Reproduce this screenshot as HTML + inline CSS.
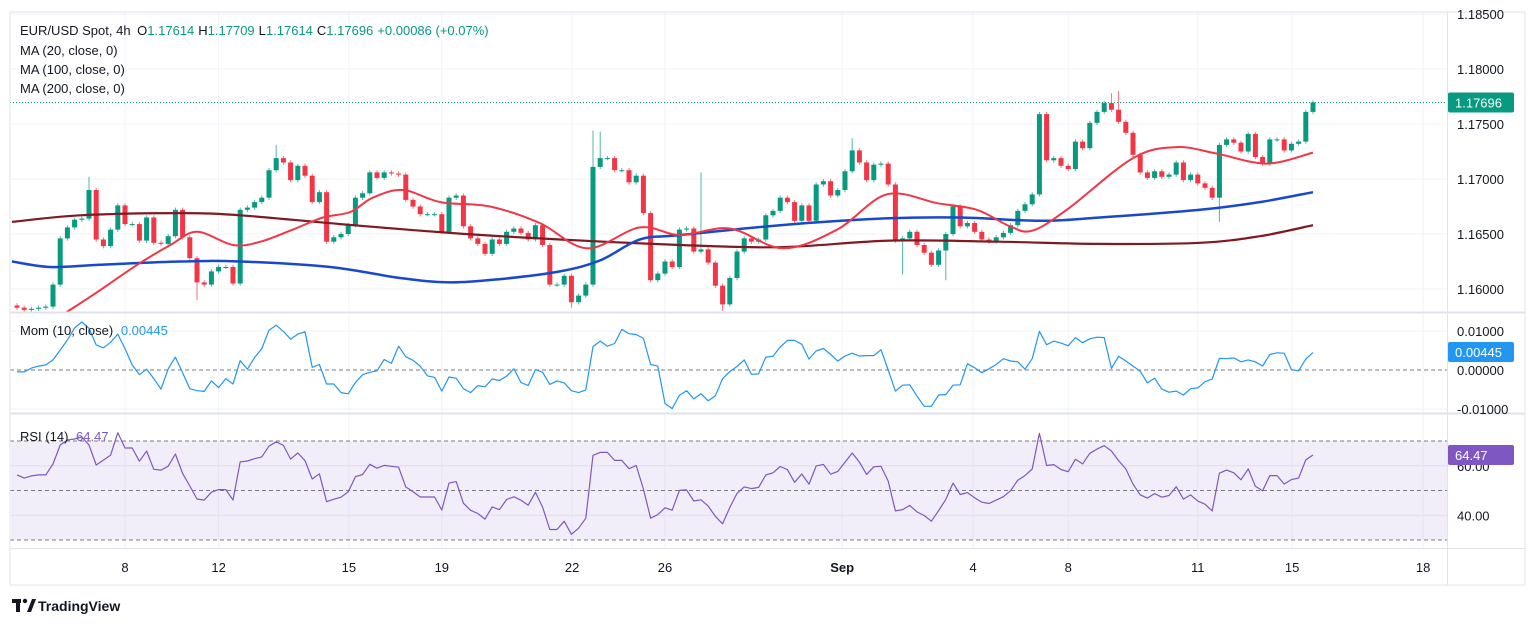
<!DOCTYPE html>
<html><head><meta charset="utf-8">
<style>
html,body{margin:0;padding:0;background:#fff;}
svg{display:block;font-family:"Liberation Sans",sans-serif;}
</style></head>
<body>
<svg id="chart" width="1536" height="625" viewBox="0 0 1536 625" xmlns="http://www.w3.org/2000/svg">
  <rect x="0" y="0" width="1536" height="625" fill="#ffffff"/>
  <g id="grid"></g>
  <rect x="11" y="441" width="1436" height="99" fill="#7e57c2" fill-opacity="0.1"/>
  <g id="marks"></g>
  <g id="frame">
    <line x1="10" y1="12" x2="1525" y2="12" stroke="#e0e3eb"/>
    <line x1="10" y1="12" x2="10" y2="585" stroke="#e0e3eb"/>
    <line x1="1525" y1="12" x2="1525" y2="585" stroke="#e0e3eb"/>
    <line x1="10" y1="585" x2="1525" y2="585" stroke="#e0e3eb"/>
    <line x1="10" y1="312.5" x2="1525" y2="312.5" stroke="#e0e3eb" stroke-width="2"/>
    <line x1="10" y1="413.5" x2="1525" y2="413.5" stroke="#e0e3eb" stroke-width="2"/>
    <line x1="10" y1="548.5" x2="1525" y2="548.5" stroke="#e0e3eb"/>
    <line x1="1447.5" y1="12" x2="1447.5" y2="585" stroke="#e0e3eb"/>
  </g>
  <g id="axes" font-size="13" fill="#131722"></g>
  <g font-size="13" fill="#131722">
    <text x="20" y="35">EUR/USD Spot, 4h <tspan dx="3">O</tspan><tspan fill="#089981">1.17614</tspan><tspan dx="4">H</tspan><tspan fill="#089981">1.17709</tspan><tspan dx="4">L</tspan><tspan fill="#089981">1.17614</tspan><tspan dx="4">C</tspan><tspan fill="#089981">1.17696</tspan><tspan fill="#089981" dx="4">+0.00086 (+0.07%)</tspan></text>
    <text x="20" y="55">MA (20, close, 0)</text>
    <text x="20" y="74">MA (100, close, 0)</text>
    <text x="20" y="93">MA (200, close, 0)</text>
    <text x="20" y="335">Mom (10, close) <tspan fill="#2196f3" dx="4">0.00445</tspan></text>
    <text x="20" y="441">RSI (14) <tspan fill="#7e57c2" dx="4">64.47</tspan></text>
  </g>
  <g>
    <rect x="12" y="599" width="9" height="4" fill="#131722"/>
    <rect x="16" y="599" width="4" height="13" fill="#131722"/>
    <circle cx="25" cy="601" r="2.2" fill="#131722"/>
    <path d="M27 612 L32 599 L36 599 L31 612 Z" fill="#131722"/>
    <text x="38" y="611" font-size="14" font-weight="bold" fill="#131722">TradingView</text>
  </g>
</svg>
<script>
const closes=[1.1583,1.1581,1.1582,1.1583,1.1584,1.1604,1.1646,1.1656,1.1663,1.1664,
1.1690,1.1645,1.1639,1.1654,1.1676,1.1659,1.1659,1.1644,1.1665,1.1642,
1.1641,1.1648,1.1672,1.1647,1.1628,1.1606,1.1604,1.1616,1.1620,1.1620,
1.1605,1.1672,1.1674,1.1679,1.1683,1.1708,1.1719,1.1715,1.1699,1.1712,
1.1703,1.1679,1.1688,1.1643,1.1647,1.1650,1.1658,1.1683,1.1687,1.1706,
1.1701,1.1706,1.1705,1.1704,1.1681,1.1675,1.1668,1.1668,1.1668,1.1652,
1.1683,1.1685,1.1657,1.1646,1.1641,1.1632,1.1645,1.1641,1.1652,1.1655,
1.1651,1.1645,1.1658,1.1640,1.1604,1.1604,1.1612,1.1588,1.1594,1.1604,
1.1711,1.1719,1.1719,1.1708,1.1708,1.1697,1.1703,1.1669,1.1608,1.1614,
1.1625,1.1620,1.1654,1.1655,1.1634,1.1636,1.1624,1.1603,1.1586,1.1610,
1.1634,1.1646,1.1643,1.1645,1.1667,1.1671,1.1683,1.1679,1.1662,1.1676,
1.1662,1.1695,1.1698,1.1685,1.1690,1.1707,1.1726,1.1715,1.1699,1.1713,
1.1714,1.1695,1.1644,1.1646,1.1652,1.1640,1.1633,1.1622,1.1635,1.1650,
1.1675,1.1657,1.1660,1.1652,1.1645,1.1643,1.1647,1.1651,1.1658,1.1671,
1.1677,1.1686,1.1759,1.1717,1.1719,1.1712,1.1709,1.1734,1.1728,1.1751,
1.1761,1.1769,1.1763,1.1752,1.1742,1.1722,1.1706,1.1701,1.1707,1.1702,
1.1704,1.1715,1.1699,1.1704,1.1696,1.1692,1.1683,1.1731,1.1736,1.1733,
1.1725,1.1741,1.1720,1.1714,1.1736,1.1736,1.1726,1.1732,1.1734,1.1761,1.17696];
const firstOpen=1.1585;
const highIdx=[10,36,80,81,95,116,142,152,153];
const highVals=[1.1702,1.1731,1.1744,1.1743,1.1706,1.1737,1.1761,1.1778,1.1780];
const lowIdx=[25,77,98,123,129,167];
const lowVals=[1.1590,1.1583,1.1580,1.1613,1.1608,1.1661];
const ma20Idx=[6.9,11.1,16.7,21.3,25,30,33.8,38.3,42.5,46.3,49.4,53.6,58.8,65.7,72.6,79.2,86.5,92.1,99,106.4,113.9,120.8,127.8,133.3,137.9,141,145.8,155,161.1,166.7,173.6,180];
const ma20Vals=[1.1579,1.1597,1.1622,1.1640,1.1652,1.1640,1.1643,1.1654,1.1665,1.1670,1.1683,1.1690,1.1679,1.1675,1.1660,1.1637,1.1656,1.1649,1.1655,1.1637,1.1654,1.1686,1.1678,1.1672,1.1657,1.1653,1.1672,1.1719,1.1729,1.1723,1.1714,1.1724];
const ma100Idx=[-0.7,4.6,11.5,22.6,31,43.5,53.2,60.1,67.1,75.4,81,86.5,92.1,106,119.9,131,142.1,150.4,164.3,172.6,180];
const ma100Vals=[1.1625,1.1620,1.1622,1.1625,1.1625,1.1620,1.1610,1.1606,1.1609,1.1616,1.1626,1.1645,1.1649,1.1658,1.1664,1.1665,1.1662,1.1665,1.1672,1.1679,1.1688];
const ma200Idx=[-0.7,8.75,22.6,31,44.9,60.1,75.4,92.1,106,121.3,136.5,150.4,164.3,172.6,180];
const ma200Vals=[1.1661,1.1667,1.1669,1.1667,1.1659,1.1651,1.1645,1.1640,1.1638,1.1644,1.1643,1.1641,1.1642,1.1648,1.1658];
const momEarly=[-0.0005,-0.0005,0.0005,0.0010,0.0013,0.0026,0.0051,0.0077,0.0108,0.0123];
const rsiEarly=[56.3,55.0,55.9,56.3,56.3,60.7,68.4,70.4,70.8,71.6,68.4,60.3,62.3,64.3];
const dateLabels=["8","12","15","19","22","26","Sep","4","8","11","15","18"];
const dateIdx=[15,28,46.1,59,77.1,90,114.6,132.8,146,164,177.1,195.3];
const priceTicks=[1.185,1.18,1.175,1.17,1.165,1.16];
const priceTickLabels=["1.18500","1.18000","1.17500","1.17000","1.16500","1.16000"];
const momTicks=[0.01,0,-0.01];
const momTickLabels=["0.01000","0.00000","-0.01000"];
const rsiTicks=[60,40];
const rsiTickLabels=["60.00","40.00"];

const NS="http://www.w3.org/2000/svg";
const xOf=i=>17+i*7.2;
const yP=p=>69+(1.18-p)*11000;
const yM=m=>370-m*3900;
const yR=r=>540-(r-30)*2.475;
function mk(tag,attrs,parent){const e=document.createElementNS(NS,tag);for(const k in attrs)e.setAttribute(k,attrs[k]);parent.appendChild(e);return e;}
const grid=document.getElementById('grid'),marks=document.getElementById('marks'),axes=document.getElementById('axes');

priceTicks.forEach((p,k)=>{const l=mk('line',{x1:10,x2:1447,y1:yP(p),y2:yP(p),stroke:'#f0f3fa'},grid);


const t=mk('text',{x:1457,y:yP(p)+5},axes);t.textContent=priceTickLabels[k];

});
momTicks.forEach((m,k)=>{const t=mk('text',{x:1457,y:yM(m)+5},axes);t.textContent=momTickLabels[k];


if(m!==0){const l=mk('line',{x1:10,x2:1447,y1:yM(m),y2:yM(m),stroke:'#f0f3fa'},grid);

}});
rsiTicks.forEach((r,k)=>{const t=mk('text',{x:1457,y:yR(r)+5},axes);t.textContent=rsiTickLabels[k];


const l=mk('line',{x1:10,x2:1447,y1:yR(r),y2:yR(r),stroke:'#ece9f5'},grid);

});
dateLabels.forEach((d,k)=>{const x=xOf(dateIdx[k]);
const l=mk('line',{x1:x,x2:x,y1:12,y2:548,stroke:'#f0f3fa'},grid);


const t=mk('text',{x:x,y:572,'text-anchor':'middle','font-weight':d==='Sep'?'bold':'normal'},axes);t.textContent=d;

});

[[yM(0),'mom-zero-line'],[yR(70),'rsi-70-line'],[yR(50),'rsi-50-line'],[yR(30),'rsi-30-line']].forEach(([y,n])=>{
const l=mk('line',{x1:10,x2:1447,y1:y,y2:y,stroke:'#787b86','stroke-dasharray':'4 3','stroke-width':1},marks);

});

const hiMap={},loMap={};highIdx.forEach((i,k)=>hiMap[i]=highVals[k]);lowIdx.forEach((i,k)=>loMap[i]=lowVals[k]);
closes.forEach((c,i)=>{const o=i===0?firstOpen:closes[i-1];
const up=c>=o;const col=up?'#089981':'#f23645';
const h=hiMap[i]!==undefined?hiMap[i]:Math.max(o,c)+0.0002;
const lo=loMap[i]!==undefined?loMap[i]:Math.min(o,c)-0.0002;
const x=xOf(i);
const w=mk('line',{x1:x,x2:x,y1:yP(h),y2:yP(lo),stroke:col,'stroke-opacity':0.7},marks);


const y1=yP(Math.max(o,c)),y2=yP(Math.min(o,c));
const b=mk('rect',{x:x-2.5,y:y1,width:5,height:Math.max(1,y2-y1),fill:col},marks);

});

function smooth(idx,vals,yf,col,w,name){const P=idx.map((i,k)=>[xOf(i),yf(vals[k])]);
let d='M'+P[0][0].toFixed(1)+','+P[0][1].toFixed(1);
for(let k=0;k<P.length-1;k++){const p0=P[Math.max(0,k-1)],p1=P[k],p2=P[k+1],p3=P[Math.min(P.length-1,k+2)];
const c1=[p1[0]+(p2[0]-p0[0])/6,p1[1]+(p2[1]-p0[1])/6],c2=[p2[0]-(p3[0]-p1[0])/6,p2[1]-(p3[1]-p1[1])/6];
d+=' C'+c1[0].toFixed(1)+','+c1[1].toFixed(1)+' '+c2[0].toFixed(1)+','+c2[1].toFixed(1)+' '+p2[0].toFixed(1)+','+p2[1].toFixed(1);}
const p=mk('path',{d:d,fill:'none',stroke:col,'stroke-width':w,'stroke-linejoin':'round'},marks);

}
function poly(idx,vals,yf,col,w,name){const pts=idx.map((i,k)=>xOf(i).toFixed(1)+','+yf(vals[k]).toFixed(1)).join(' ');
const p=mk('polyline',{points:pts,fill:'none',stroke:col,'stroke-width':w,'stroke-linejoin':'round'},marks);

}
smooth(ma200Idx,ma200Vals,yP,'#801922',2.2,'ma200-line');
smooth(ma100Idx,ma100Vals,yP,'#1848cc',2.5,'ma100-line');
smooth(ma20Idx,ma20Vals,yP,'#f23645',2,'ma20-line');

const lp=closes[closes.length-1];
const dl=mk('line',{x1:10,x2:1447,y1:yP(lp),y2:yP(lp),stroke:'#089981','stroke-dasharray':'1 2'},marks);



const mom=closes.map((c,i)=>i<10?momEarly[i]:c-closes[i-10]);
poly(closes.map((_,i)=>i),mom,yM,'#2196f3',1.2,'momentum-line');
const rsi=[];let ag=0,al=0;
for(let i=1;i<=14;i++){const d=closes[i]-closes[i-1];if(d>0)ag+=d;else al-=d;}
ag/=14;al/=14;
closes.forEach((c,i)=>{if(i<14){rsi.push(rsiEarly[i]);return;}
if(i>14){const d=c-closes[i-1];ag=(ag*13+Math.max(d,0))/14;al=(al*13+Math.max(-d,0))/14;}
rsi.push(100-100/(1+ag/(al||1e-9)));});
poly(closes.map((_,i)=>i),rsi,yR,'#7e57c2',1.2,'rsi-line');

function badge(y,txt,col,name){const g=mk('g',{},axes);


mk('rect',{x:1448,y:y-10,width:66,height:20,rx:2,fill:col},g);
const t=mk('text',{x:1455,y:y+5,fill:'#fff','font-size':13},g);t.textContent=txt;}
badge(yP(lp),'1.17696','#089981','last-price-badge');
badge(352,'0.00445','#2196f3','mom-value-badge');
badge(455,'64.47','#7e57c2','rsi-value-badge');
</script>
</body></html>
